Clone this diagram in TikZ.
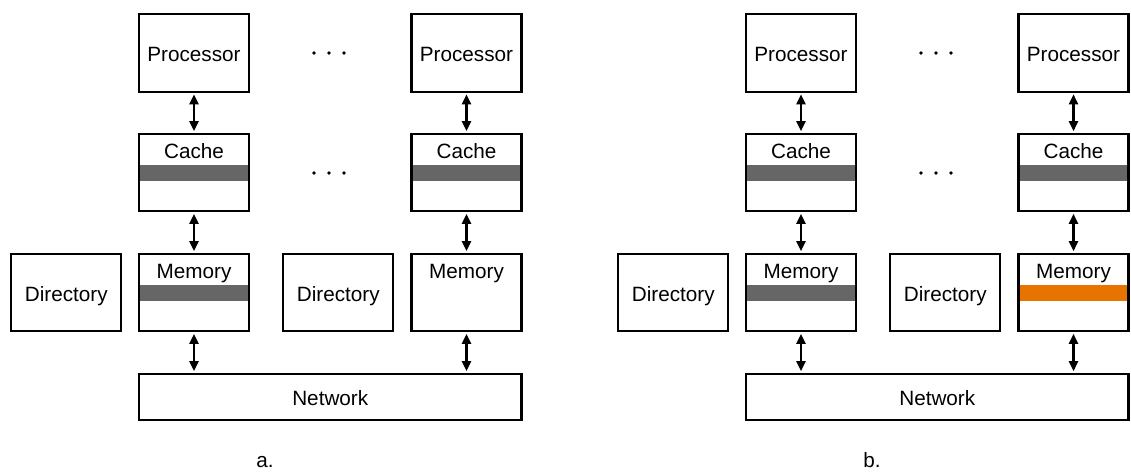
\documentclass[tikz,border=0pt]{standalone}
\usepackage{fontspec}
\setmainfont{Liberation Sans}
\usetikzlibrary{arrows.meta}
\pgfdeclarelayer{bg}
\pgfsetlayers{bg,main}
\definecolor{bargray}{HTML}{666666}
\definecolor{barorange}{HTML}{E87400}
\tikzset{
  box/.style={draw=black, line width=2.2pt, outer sep=0pt, inner sep=0pt,
    text height=17.5pt, text depth=0pt, minimum width=110pt},
  uprow/.style={minimum height=77.4pt},
  netrow/.style={minimum height=46pt, minimum width=382.4pt},
  link/.style={line width=2.3pt, {Triangle[length=10pt,width=9pt]}-{Triangle[length=10pt,width=9pt]},
    shorten <=2.6pt, shorten >=2.6pt},
  tag/.style={anchor=base, inner sep=0pt},
  dot/.style={circle, fill=black, inner sep=0pt, minimum size=3.8pt},
  every node/.style={font=\fontsize{20.7}{24}\selectfont},
}
\begin{document}
\begin{tikzpicture}[x=1pt, y=-1pt]
\useasboundingbox (0,0) rectangle (1131,471);

% ---------------- panel a ----------------
\node[box, uprow] (aP1) at (194,53) {Processor};
\node[box, uprow] (aP2) at (466.5,53) {Processor};
\node[box, uprow] (aC1) at (194,172.5) {};
\node[box, uprow] (aC2) at (466.5,172.5) {};
\node[box, uprow] (aD1) at (66.25,292.5) {Directory};
\node[box, uprow] (aM1) at (194,292.5) {};
\node[box, uprow] (aD2) at (338.25,292.5) {Directory};
\node[box, uprow] (aM2) at (466.5,292.5) {};
\node[box, netrow] (aN) at (330.25,396.8) {Network};

\node[tag] (aC1t) at ([yshift=-24.8pt]aC1.north) {Cache};
\node[tag] (aC2t) at ([yshift=-24.8pt]aC2.north) {Cache};
\node[tag] (aM1t) at ([yshift=-24.8pt]aM1.north) {Memory};
\node[tag] (aM2t) at ([yshift=-24.8pt]aM2.north) {Memory};

\begin{pgfonlayer}{bg}
  \fill[bargray] (aC1.west |- 0,165) rectangle (aC1.east |- 0,181);
  \fill[bargray] (aC2.west |- 0,165) rectangle (aC2.east |- 0,181);
  \fill[bargray] (aM1.west |- 0,285) rectangle (aM1.east |- 0,301);
\end{pgfonlayer}

\draw[link] (aP1) -- (aC1);
\draw[link] (aP2) -- (aC2);
\draw[link] (aC1) -- (aM1);
\draw[link] (aC2) -- (aM2);
\draw[link] (aM1.south) -- (aM1.south |- aN.north);
\draw[link] (aM2.south) -- (aM2.south |- aN.north);

\node[dot] (ad1) at (314,53) {};
\node[dot] (ad2) at (329,53) {};
\node[dot] (ad3) at (344,53) {};
\node[dot] (ad4) at (314,173) {};
\node[dot] (ad5) at (329,173) {};
\node[dot] (ad6) at (344,173) {};

\node[tag] (acap) at (265,467) {a.};

% ---------------- panel b ----------------
\node[box, uprow] (bP1) at (801,53) {Processor};
\node[box, uprow] (bP2) at (1073.5,53) {Processor};
\node[box, uprow] (bC1) at (801,172.5) {};
\node[box, uprow] (bC2) at (1073.5,172.5) {};
\node[box, uprow] (bD1) at (673.25,292.5) {Directory};
\node[box, uprow] (bM1) at (801,292.5) {};
\node[box, uprow] (bD2) at (945.25,292.5) {Directory};
\node[box, uprow] (bM2) at (1073.5,292.5) {};
\node[box, netrow] (bN) at (937.25,396.8) {Network};

\node[tag] (bC1t) at ([yshift=-24.8pt]bC1.north) {Cache};
\node[tag] (bC2t) at ([yshift=-24.8pt]bC2.north) {Cache};
\node[tag] (bM1t) at ([yshift=-24.8pt]bM1.north) {Memory};
\node[tag] (bM2t) at ([yshift=-24.8pt]bM2.north) {Memory};

\begin{pgfonlayer}{bg}
  \fill[bargray] (bC1.west |- 0,165) rectangle (bC1.east |- 0,181);
  \fill[bargray] (bC2.west |- 0,165) rectangle (bC2.east |- 0,181);
  \fill[bargray] (bM1.west |- 0,285) rectangle (bM1.east |- 0,301);
  \fill[barorange] (bM2.west |- 0,285) rectangle (bM2.east |- 0,301);
\end{pgfonlayer}

\draw[link] (bP1) -- (bC1);
\draw[link] (bP2) -- (bC2);
\draw[link] (bC1) -- (bM1);
\draw[link] (bC2) -- (bM2);
\draw[link] (bM1.south) -- (bM1.south |- bN.north);
\draw[link] (bM2.south) -- (bM2.south |- bN.north);

\node[dot] (bd1) at (921,53) {};
\node[dot] (bd2) at (936,53) {};
\node[dot] (bd3) at (951,53) {};
\node[dot] (bd4) at (921,173) {};
\node[dot] (bd5) at (936,173) {};
\node[dot] (bd6) at (951,173) {};

\node[tag] (bcap) at (872,467) {b.};
\end{tikzpicture}
\end{document}
